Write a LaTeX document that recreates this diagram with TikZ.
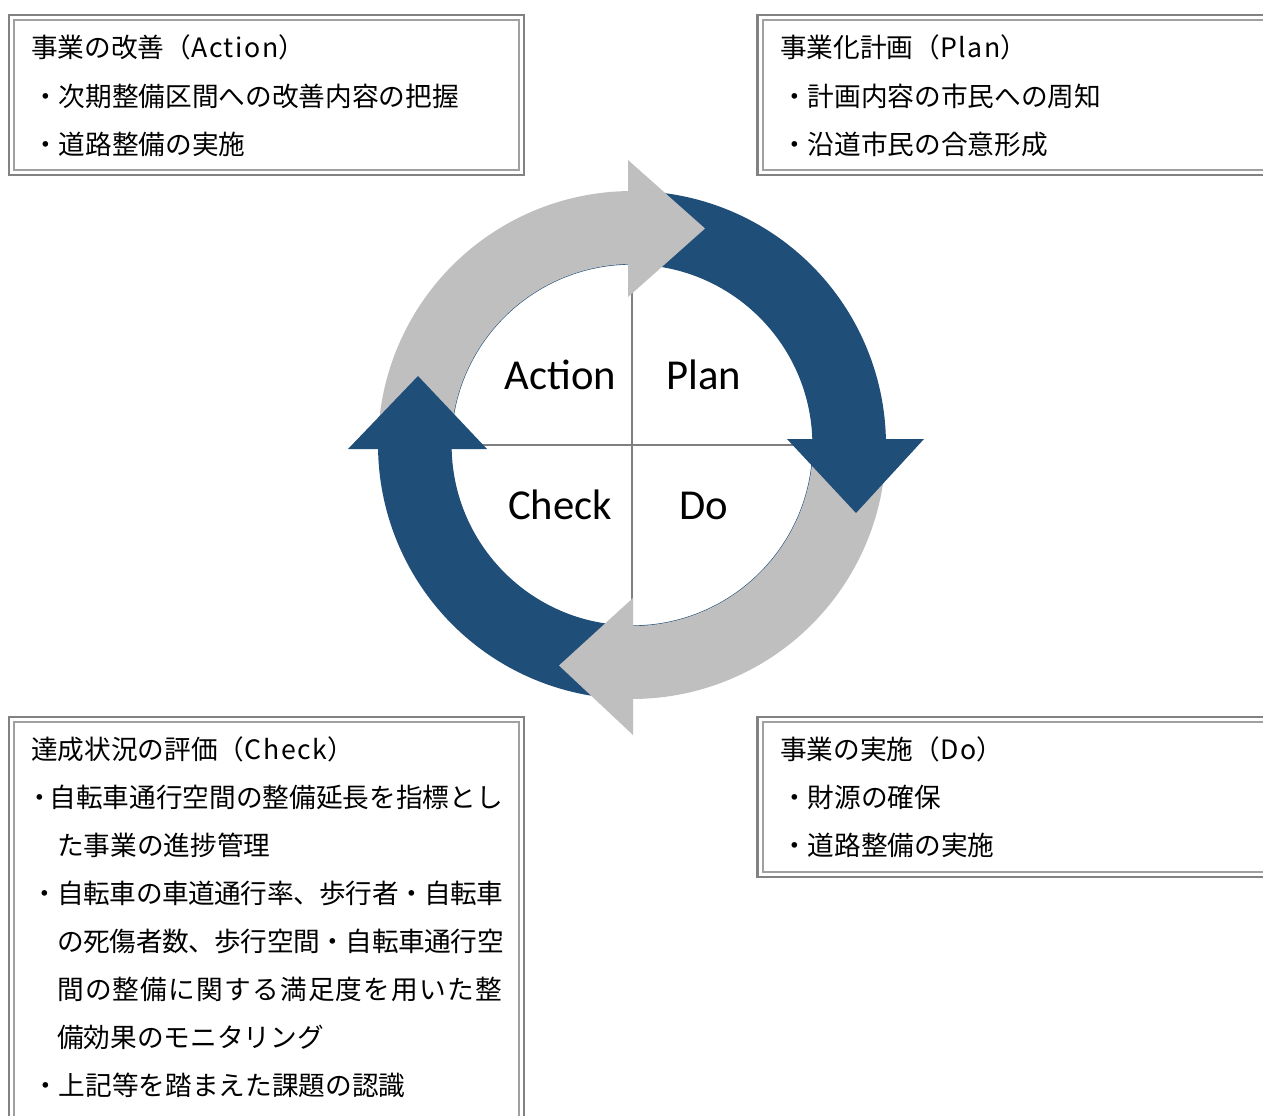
\documentclass[tikz,border=0pt]{standalone}
\usepackage{fontspec}
\newfontfamily\jpfont{Noto Sans CJK JP}
\newfontfamily\calfont{Carlito}
\definecolor{pdcablue}{RGB}{31,78,121}
\definecolor{pdcagray}{RGB}{191,191,191}
\definecolor{frameout}{RGB}{130,130,130}
\definecolor{framein}{RGB}{160,160,160}
\definecolor{crossline}{RGB}{127,127,127}
\newcommand{\lat}[1]{{\addfontfeature{LetterSpace=6}#1}}
\newcommand{\lsp}[2]{{\addfontfeature{LetterSpace=#1}#2}}
\begin{document}
\begin{tikzpicture}[x=0.75pt,y=-0.75pt,
  jtext/.style={anchor=base west, inner sep=0pt, font=\jpfont\fontsize{20}{24}\selectfont, text=black},
  pdcalabel/.style={anchor=base, inner sep=0pt, font=\calfont\fontsize{32}{38}\selectfont, text=black},
  outerframe/.style={draw=frameout, line width=2pt},
  innerframe/.style={draw=framein, line width=1.5pt},
  crossstyle/.style={draw=crossline, line width=1.5pt},
]
\useasboundingbox (0,0) rectangle (1263,1115);
\clip (0,0) rectangle (1263,1115);
\fill[white] (0,0) rectangle (1263,1115);

% ---------- frames ----------
\draw[outerframe] (9,15) rectangle (524,175);
\draw[innerframe] (14,20) rectangle (519,170);
\draw[outerframe] (757.5,15) rectangle (1280,175);
\draw[innerframe] (762.5,20) rectangle (1275,170);
\draw[outerframe] (9,717) rectangle (524,1130);
\draw[innerframe] (14,722) rectangle (519,1125);
\draw[outerframe] (757.5,717) rectangle (1280,877);
\draw[innerframe] (762.5,722) rectangle (1275,872);

% ---------- Action box ----------
\node[jtext] (a0) at (31,57) {事業の改善（\lat{Action}）};
\node[jtext] (a1) at (32,106) {・次期整備区間への改善内容の把握};
\node[jtext] (a2) at (32,154) {・道路整備の実施};

% ---------- Plan box ----------
\node[jtext] (p0) at (780,57) {事業化計画（\lat{Plan}）};
\node[jtext] (p1) at (781,106) {・計画内容の市民への周知};
\node[jtext] (p2) at (781,154) {・沿道市民の合意形成};

% ---------- Check box ----------
\node[jtext] (c0) at (31,759) {達成状況の評価（\lat{Check}）};
\node[jtext] (c1) at (26.5,807) {・\kern-3pt 自転車通行空間の整備延長を指標とし};
\node[jtext] (c2) at (57,855) {た事業の進捗管理};
\node[jtext] (c3) at (31,903) {\lsp{-1.7}{・自転車の車道通行率、歩行者・自転車}};
\node[jtext] (c4) at (57,951) {\lsp{-1.6}{の死傷者数、歩行空間・自転車通行空}};
\node[jtext] (c5) at (57,999) {\lsp{4.5}{間の整備に関する満足度を用いた整}};
\node[jtext] (c6) at (57,1047) {備効果のモニタリング};
\node[jtext] (c7) at (32,1095) {・上記等を踏まえた課題の認識};

% ---------- Do box ----------
\node[jtext] (d0) at (780,759) {事業の実施（\lat{Do}）};
\node[jtext] (d1) at (781,807) {・財源の確保};
\node[jtext] (d2) at (781,855) {・道路整備の実施};

% ---------- cycle ----------
\coordinate (ctr) at (632,445);
\draw[pdcablue, line width=0.9pt] (ctr) circle[radius=181];
% bands
\fill[pdcagray] plot[domain=180:270, samples=60] ({632+254*cos(\x)},{445+254*sin(\x)})
  -- plot[domain=270:180, samples=60] ({632+181*cos(\x)},{445+181*sin(\x)}) -- cycle;
\fill[pdcablue] plot[domain=270:360, samples=60] ({632+254*cos(\x)},{445+254*sin(\x)})
  -- plot[domain=360:270, samples=60] ({632+181*cos(\x)},{445+181*sin(\x)}) -- cycle;
\fill[pdcagray] plot[domain=0:90, samples=60] ({632+254*cos(\x)},{445+254*sin(\x)})
  -- plot[domain=90:0, samples=60] ({632+181*cos(\x)},{445+181*sin(\x)}) -- cycle;
\fill[pdcablue] plot[domain=90:180, samples=60] ({632+254*cos(\x)},{445+254*sin(\x)})
  -- plot[domain=180:90, samples=60] ({632+181*cos(\x)},{445+181*sin(\x)}) -- cycle;

% cross lines
\coordinate (hl) at (451,445);
\coordinate (hr) at (813,445);
\coordinate (vt) at (632,264);
\coordinate (vb) at (632,626);
\draw[crossstyle] (hl) -- (hr);
\draw[crossstyle] (vt) -- (vb);

% heads
\fill[pdcagray] (628,160) -- (705,228.5) -- (628,297) -- cycle;
\fill[pdcablue] (787,439) -- (924,439) -- (856,513) -- cycle;
\fill[pdcagray] (633,598) -- (559,665.5) -- (633,735) -- cycle;
\fill[pdcablue] (348,449) -- (487,449) -- (418,376) -- cycle;

% labels
\node[pdcalabel] (lact) at (560.5,389) {Action};
\node[pdcalabel] (lplan) at (704,389) {Plan};
\node[pdcalabel] (lchk) at (560,519) {Check};
\node[pdcalabel] (ldo) at (704,519) {Do};
\end{tikzpicture}
\end{document}
